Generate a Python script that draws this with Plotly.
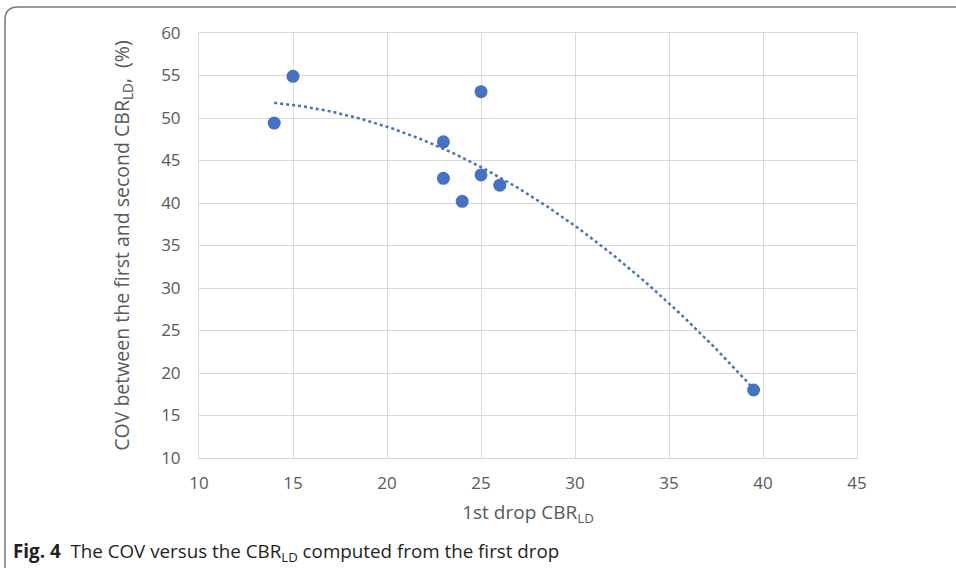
import numpy as np
import plotly.graph_objects as go

cbr_first = [14, 15, 23, 23, 24, 25, 25, 26, 39.5]
cov_pct = [49.4, 54.9, 47.2, 42.9, 40.2, 53.1, 43.3, 42.1, 18.0]
x_ticks = [10, 15, 20, 25, 30, 35, 40, 45]
y_ticks = [10, 15, 20, 25, 30, 35, 40, 45, 50, 55, 60]

BLUE = "#4472C4"
GRID = "#d9d9d9"
TICKC = "#595959"

# second-order polynomial trendline fitted to the data
coef = np.polyfit(cbr_first, cov_pct, 2)
tx = np.linspace(min(cbr_first), max(cbr_first), 200)
ty = np.polyval(coef, tx)

fig = go.Figure()
fig.add_trace(go.Scatter(x=tx, y=ty, mode="lines",
                         line=dict(color=BLUE, width=2.5, dash="dot"),
                         hoverinfo="skip", showlegend=False))
fig.add_trace(go.Scatter(x=cbr_first, y=cov_pct, mode="markers",
                         marker=dict(color=BLUE, size=13),
                         showlegend=False))

W, H = 956, 570
ml, mr, mt, mb = 199, 99, 33, 112
pw, ph = W - ml - mr, H - mt - mb

def px(x):
    return (x - ml) / pw

def py(y):
    return (H - mb - y) / ph

fig.update_layout(
    width=W, height=H,
    margin=dict(l=ml, r=mr, t=mt, b=mb, autoexpand=False),
    paper_bgcolor="white", plot_bgcolor="white",
    font=dict(family="Open Sans", color=TICKC),
    xaxis=dict(range=[10, 45], tickvals=x_ticks, showgrid=True, gridcolor=GRID,
               gridwidth=1, zeroline=False, showline=True, linecolor=GRID,
               linewidth=1, mirror=True, tickfont=dict(size=17, color=TICKC),
               ticks="", ticklabelstandoff=10,
               title=dict(text="1st drop CBR<sub>LD</sub>", font=dict(size=19, color=TICKC),
                          standoff=12)),
    yaxis=dict(range=[10, 60], tickvals=y_ticks, showgrid=True, gridcolor=GRID,
               gridwidth=1, zeroline=False, showline=True, linecolor=GRID,
               linewidth=1, mirror=True, tickfont=dict(size=17, color=TICKC),
               ticks="", ticklabelstandoff=14,
               title=dict(text="COV between the first and second CBR<sub>LD</sub>,  (%)",
                          font=dict(size=19.5, color=TICKC), standoff=26)),
    shapes=[
        dict(type="path", xref="paper", yref="paper",
             path=f"M {px(5)} {py(568)} L {px(5)} {py(20)} Q {px(5)} {py(7)} {px(18)} {py(7)} L {px(956)} {py(7)}",
             line=dict(color="#7a7a7a", width=1.5), layer="above"),
    ],
    annotations=[
        dict(xref="paper", yref="paper", x=px(11), y=py(552), xanchor="left", yanchor="middle",
             showarrow=False,
             text="<b>Fig. 4</b>  The COV versus the CBR<sub>LD</sub> computed from the first drop",
             font=dict(family="Open Sans", size=18.8, color="#231f20")),
    ],
)

fig.write_html("out.html")
